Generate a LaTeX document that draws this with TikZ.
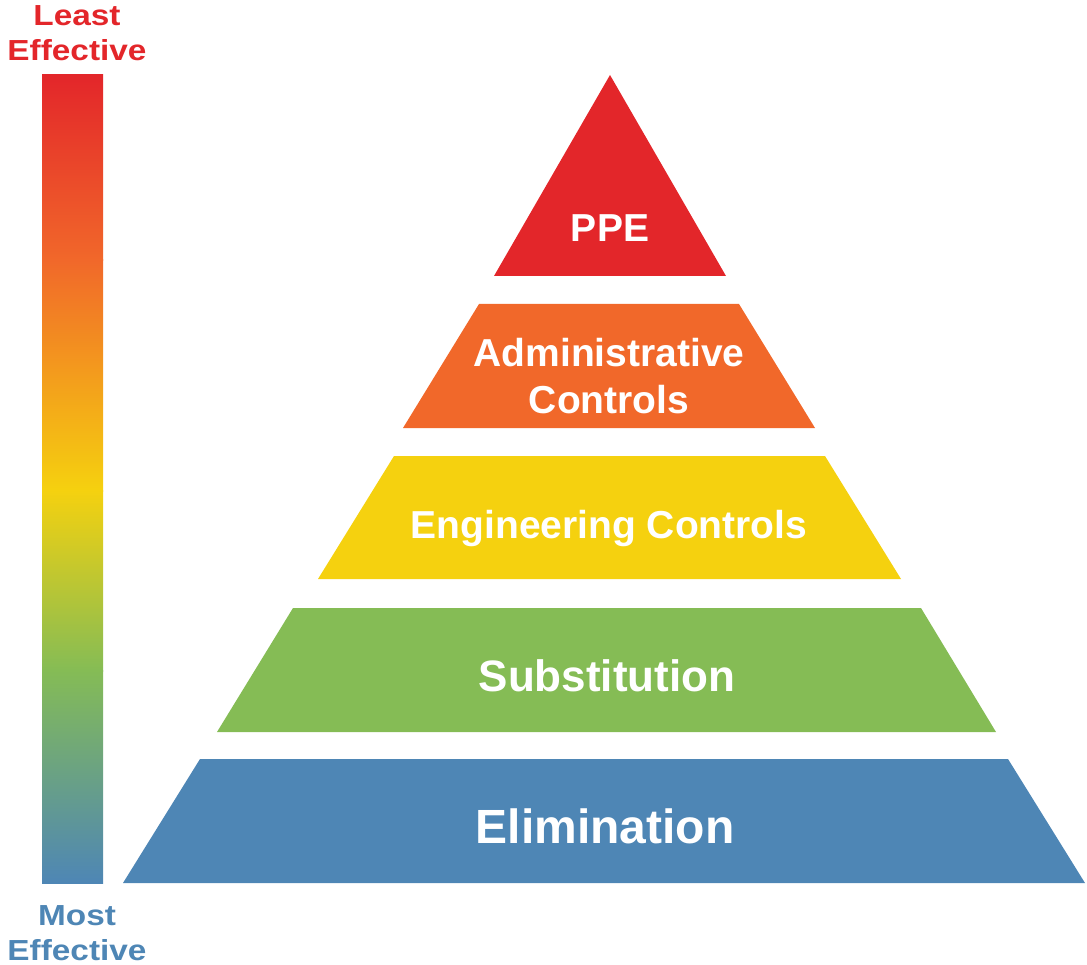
\documentclass[tikz,border=0pt]{standalone}
\usepackage{fontspec}
\setmainfont{Liberation Sans}
\definecolor{ppered}{HTML}{E3262A}
\definecolor{admorange}{HTML}{F1682A}
\definecolor{engyellow}{HTML}{F5D10F}
\definecolor{subgreen}{HTML}{85BC55}
\definecolor{elimblue}{HTML}{4E86B5}
\tikzset{
	level/.style={white,font=\bfseries\fontsize{39}{47}\selectfont,align=center,inner sep=0pt},
	side/.style={font=\bfseries\fontsize{29}{35}\selectfont,align=center,inner sep=0pt,xscale=1.15}
}
\begin{document}
\begin{tikzpicture}[x=1pt,y=-1pt]
	\useasboundingbox (0,0) rectangle (1087,965);
	% effectiveness bar
	\shade[top color=ppered,bottom color=admorange] (42,75) rectangle (103,261);
	\shade[top color=admorange,bottom color=engyellow] (42,260) rectangle (103,491);
	\shade[top color=engyellow,bottom color=subgreen] (42,490) rectangle (103,671);
	\shade[top color=subgreen,bottom color=elimblue] (42,670) rectangle (103,883);
	\node[side,text=ppered] (least) at (77,33) {Least\\Effective};
	\node[side,text=elimblue] (most) at (77,933) {Most\\Effective};
	% pyramid
	\fill[ppered] (610,75) -- (726,276) -- (494,276) -- cycle;
	\fill[admorange] (479,304) -- (739,304) -- (815,428) -- (403,428) -- cycle;
	\fill[engyellow] (394,456) -- (825,456) -- (901,579) -- (318,579) -- cycle;
	\fill[subgreen] (293,608) -- (921,608) -- (996,732) -- (217,732) -- cycle;
	\fill[elimblue] (200,759) -- (1008,759) -- (1085,883) -- (123,883) -- cycle;
	\node[level,anchor=base] (ppe) at (610,242) {PPE};
	\node[level] (adm) at (609,376) {Administrative\\Controls};
	\node[level,anchor=base] (eng) at (609,538) {Engineering Controls};
	\node[level,anchor=base,font=\bfseries\fontsize{44}{52}\selectfont] (sub) at (607,691) {Substitution};
	\node[level,anchor=base,font=\bfseries\fontsize{48}{56}\selectfont] (elim) at (605,843) {Elimination};
\end{tikzpicture}
\end{document}
